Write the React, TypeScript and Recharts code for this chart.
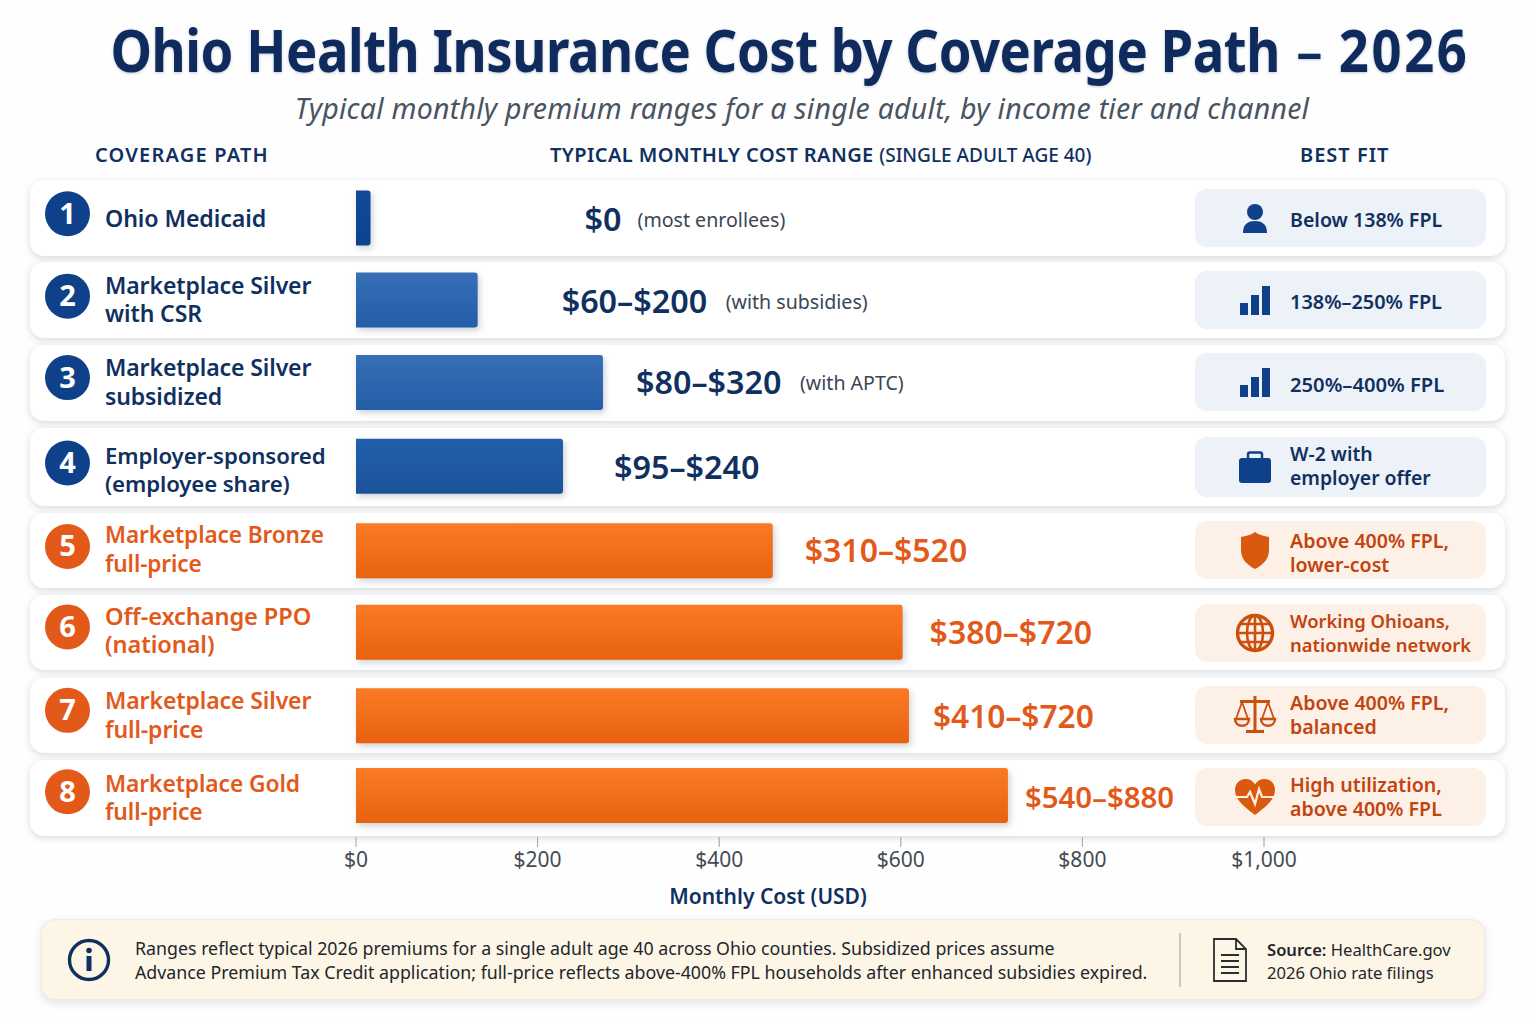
import { BarChart, Bar, XAxis, YAxis, LabelList, Rectangle } from "recharts";

// data
const coveragePaths = [
  "Ohio Medicaid",
  "Marketplace Silver\nwith CSR",
  "Marketplace Silver\nsubsidized",
  "Employer-sponsored\n(employee share)",
  "Marketplace Bronze\nfull-price",
  "Off-exchange PPO\n(national)",
  "Marketplace Silver\nfull-price",
  "Marketplace Gold\nfull-price",
];
const barCosts = [16, 134, 272, 228, 459, 602, 609, 718];
const rangeLabels = ["$0", "$60–$200", "$80–$320", "$95–$240", "$310–$520", "$380–$720", "$410–$720", "$540–$880"];
const rangeNotes = ["(most enrollees)", "(with subsidies)", "(with APTC)", "", "", "", "", ""];
const bestFit = [
  "Below 138% FPL",
  "138%–250% FPL",
  "250%–400% FPL",
  "W-2 with\nemployer offer",
  "Above 400% FPL,\nlower-cost",
  "Working Ohioans,\nnationwide network",
  "Above 400% FPL,\nbalanced",
  "High utilization,\nabove 400% FPL",
];
const costTicks = [0, 200, 400, 600, 800, 1000];

const chartData = coveragePaths.map((path, i) => ({ path, cost: barCosts[i], range: rangeLabels[i], note: rangeNotes[i] }));

// layout
const NAVY = "#10305f";
const DEEP = "#0e4189";
const ORANGE = "#e2591a";
const RUST = "#c2440f";
const FONT = "'Noto Sans', sans-serif";
const rowBoxes = [[180, 76], [262, 76], [345, 76], [428, 78], [513, 75], [595, 75], [678, 75], [760, 76]];
const chipBoxes = [[189, 58], [271, 58], [353, 58], [437, 60], [521, 58], [604, 58], [686, 58], [768, 58]];
const labelGaps = [214, 84, 33, 51, 32, 27, 24, 17];
const barFills = ["url(#gradNavy)", "url(#gradBlue)", "url(#gradBlue)", "url(#gradDeep)", "url(#gradOrange)", "url(#gradOrange)", "url(#gradOrange)", "url(#gradOrange)"];
// the rows in the picture are not evenly spaced, small nudges per row
const barShift = [-1, -1.5, -1.5, 0, 2, 1, 2, -0.5];
const badgeShift = [-1, -1, -2, 1, 2, 0, 1, 0];
const nameShift = [0, -1, -1, 4, 1, 0, 2, 2];
const nameSizes = [23.2, 23, 23, 22.2, 22.6, 23.6, 23, 22.8];
const labelShift = [0, 0, -2, 1, 1, 1, 2, 0];
const labelSizes = [32.3, 32.3, 32.3, 32.3, 32, 32, 31.7, 29.4];
const chipTextShift = [2, 2, 2, -1.5, 2.5, 0, 0, 0];
const chipIconShift = [2, 3, 3, 0, 0, 0, 0, 0];
const chipSizes = [19.6, 19.9, 20.2, 19.4, 19.6, 18.4, 19.6, 19.6];

const isWarm = (i: number) => i >= 4;

const PathTick = ({ y, index, payload }: any) => {
  const lines = String(payload.value).split("\n");
  const warm = isWarm(index);
  const color = warm ? ORANGE : DEEP;
  const cy = y - 4 + badgeShift[index];
  return (
    <g>
      <circle cx={67.5} cy={cy} r={22.5} fill={color} />
      <text x={67.5} y={cy + 10} textAnchor="middle" fontFamily={FONT} fontWeight={700} fontSize={29} fill="#fff">
        {index + 1}
      </text>
      <text
        y={y + 8 + nameShift[index] - ((lines.length - 1) / 2) * 28.5}
        fontFamily={FONT}
        fontWeight={600}
        fontSize={nameSizes[index]}
        letterSpacing={-0.1}
        fill={warm ? ORANGE : NAVY}
      >
        {lines.map((line, k) => (
          <tspan key={k} x={105} dy={k === 0 ? 0 : 28.5}>
            {line}
          </tspan>
        ))}
      </text>
    </g>
  );
};

const RangeLabel = ({ x, y, width, height, index }: any) => {
  const warm = isWarm(index);
  const left = x + width + labelGaps[index];
  const mid = y + height / 2 + labelShift[index];
  const note = rangeNotes[index];
  const mainWidth = rangeLabels[index].length === 2 ? 36 : 147;
  return (
    <g>
      <text x={left} y={mid + 12} fontFamily={FONT} fontWeight={600} fontSize={labelSizes[index]} fill={warm ? ORANGE : NAVY}>
        {rangeLabels[index]}
      </text>
      {note ? (
        <text x={left + mainWidth + 17} y={mid + 8} fontFamily={FONT} fontSize={19.6} fill="#3b4654">
          {note}
        </text>
      ) : null}
    </g>
  );
};

const CostBar = (props: any) => {
  const { x, y, width, height, index } = props;
  return (
    <Rectangle
      x={x}
      y={y + barShift[index]}
      width={width}
      height={height}
      radius={[0, 3, 3, 0]}
      fill={barFills[index]}
      style={{ filter: "drop-shadow(2px 3px 3px rgba(60,70,90,0.25))" }}
    />
  );
};

const FitIcon = ({ index }: { index: number }) => {
  const c = isWarm(index) ? "#d9590f" : DEEP;
  const s = isWarm(index) ? "#c9500f" : DEEP;
  if (index === 0)
    return (
      <svg width="44" height="44" viewBox="0 0 44 44">
        <circle cx="22" cy="14" r="8" fill={c} />
        <path d="M10 35c0-9 5-12 12-12s12 3 12 12z" fill={c} />
      </svg>
    );
  if (index === 1 || index === 2)
    return (
      <svg width="44" height="44" viewBox="0 0 44 44">
        <rect x="7" y="22" width="8" height="12" fill={c} />
        <rect x="18" y="14" width="8" height="20" fill={c} />
        <rect x="29" y="5" width="8" height="29" fill={c} />
      </svg>
    );
  if (index === 3)
    return (
      <svg width="44" height="44" viewBox="0 0 44 44">
        <rect x="6" y="13" width="32" height="25" rx="3" fill={c} />
        <path d="M15 13V9.500a2 2 0 0 1 2-2h10a2 2 0 0 1 2 2V13" fill="none" stroke={c} strokeWidth="2.500" />
      </svg>
    );
  if (index === 4)
    return (
      <svg width="44" height="44" viewBox="0 0 44 44">
        <path d="M22 4c4 3 9 4 14 5v13c0 9-6 15-14 19-8-4-14-10-14-19V9c5-1 10-2 14-5z" fill={c} />
      </svg>
    );
  if (index === 5)
    return (
      <svg width="44" height="44" viewBox="0 0 44 44" fill="none" stroke={s} strokeWidth="2.600">
        <circle cx="22" cy="22" r="17.500" strokeWidth="3.400" />
        <ellipse cx="22" cy="22" rx="8" ry="17.500" />
        <path d="M22 4.500v35M4.500 22h35M7.500 13h29M7.500 31h29" />
      </svg>
    );
  if (index === 6)
    return (
      <svg width="44" height="44" viewBox="0 0 44 44" fill="none" stroke={s} strokeWidth="1.800">
        <path d="M22 3v34M13 38.500h18M7 8.500h30" strokeWidth="3" />
        <path d="M9 9L3 26M9 9l6 17M35 9l-6 17M35 9l6 17" />
        <path d="M2 26h14c0 9-14 9-14 0zM28 26h14c0 9-14 9-14 0z" strokeWidth="2.400" />
      </svg>
    );
  return (
    <svg width="44" height="44" viewBox="0 0 44 44">
      <path d="M22 40C10 31 2 24 2 15 2 8 7 4 12.500 4 17 4 20 6 22 9.500 24 6 27 4 31.500 4 37 4 42 8 42 15c0 9-8 16-20 25z" fill={c} />
      <path d="M2 22h12l3-5 5 12 4-15 3 8h13" fill="none" stroke="#fdf1e7" strokeWidth="2.200" />
    </svg>
  );
};

const Abs = ({ style, children }: any) => <div style={{ position: "absolute", whiteSpace: "nowrap", fontFamily: FONT, ...style }}>{children}</div>;

export default function App() {
  return (
    <div style={{ position: "absolute", left: 0, top: 0, width: 1536, height: 1024, background: "#fefefe", overflow: "hidden" }}>
      <Abs style={{ left: 0, width: 1580, top: 11, textAlign: "center", fontSize: 60, lineHeight: "76px", fontWeight: 700, color: "#0f2a5c", textShadow: "0 1px 3px rgba(15,42,92,0.25)", transform: "scaleX(0.876)", transformOrigin: "790px 0" }}>
        <span style={{ letterSpacing: -0.5 }}>Ohio Health Insurance Cost by Coverage Path</span>
        <span style={{ fontWeight: 500, margin: "0 3px" }}> – </span>
        <span style={{ letterSpacing: 3 }}>2026</span>
      </Abs>
      <Abs style={{ left: 0, width: 1604, top: 89, textAlign: "center", fontSize: 28.5, lineHeight: "38px", letterSpacing: 0.25, fontStyle: "italic", color: "#4a5460" }}>
        Typical monthly premium ranges for a single adult, by income tier and channel
      </Abs>
      <Abs style={{ left: 95, top: 141, fontSize: 20, lineHeight: "28px", fontWeight: 600, color: NAVY, letterSpacing: 1.2 }}>COVERAGE PATH</Abs>
      <Abs style={{ left: 550, top: 141, fontSize: 20, lineHeight: "28px", fontWeight: 600, color: NAVY, letterSpacing: 0.4 }}>
        TYPICAL MONTHLY COST RANGE <span style={{ fontWeight: 500, fontSize: 19, letterSpacing: 0 }}>(SINGLE ADULT AGE 40)</span>
      </Abs>
      <Abs style={{ left: 1300, top: 141, fontSize: 20, lineHeight: "28px", fontWeight: 600, color: NAVY, letterSpacing: 1 }}>BEST FIT</Abs>

      {rowBoxes.map(([top, height], i) => (
        <div key={i} style={{ position: "absolute", left: 30, width: 1475, top, height, background: "#fff", borderRadius: 14, boxShadow: "0 2px 7px rgba(70,85,110,0.22)" }} />
      ))}
      {chipBoxes.map(([top, height], i) => (
        <div key={i} style={{ position: "absolute", left: 1195, width: 291, top, height, borderRadius: 12, background: isWarm(i) ? "#fdf1e7" : "#edf2f8" }}>
          <div style={{ position: "absolute", left: 38, top: height / 2 - 22 + chipIconShift[i], width: 44, height: 44 }}>
            <FitIcon index={i} />
          </div>
          <div style={{ position: "absolute", left: 95, top: chipTextShift[i], height, display: "flex", flexDirection: "column", justifyContent: "center", fontFamily: FONT, fontWeight: 600, fontSize: chipSizes[i], lineHeight: "24px", whiteSpace: "nowrap", color: isWarm(i) ? RUST : NAVY }}>
            {bestFit[i].split("\n").map((line) => (
              <div key={line}>{line}</div>
            ))}
          </div>
        </div>
      ))}

      <div style={{ position: "absolute", left: 0, top: 0 }}>
        <BarChart
          width={1536}
          height={1024}
          data={chartData}
          layout="vertical"
          barSize={55}
          margin={{ top: 177.5, right: 272, bottom: 147, left: 0 }}
        >
          <defs>
            <linearGradient id="gradNavy" x1="0" y1="0" x2="0" y2="1">
              <stop offset="0%" stopColor="#114a97" />
              <stop offset="100%" stopColor="#0c4390" />
            </linearGradient>
            <linearGradient id="gradBlue" x1="0" y1="0" x2="0" y2="1">
              <stop offset="0%" stopColor="#386fb6" />
              <stop offset="100%" stopColor="#235ea8" />
            </linearGradient>
            <linearGradient id="gradDeep" x1="0" y1="0" x2="0" y2="1">
              <stop offset="0%" stopColor="#2160ad" />
              <stop offset="100%" stopColor="#1c5299" />
            </linearGradient>
            <linearGradient id="gradOrange" x1="0" y1="0" x2="0" y2="1">
              <stop offset="0%" stopColor="#fb7a26" />
              <stop offset="100%" stopColor="#e8620f" />
            </linearGradient>
          </defs>
          <XAxis
            type="number"
            domain={[0, 1000]}
            ticks={costTicks}
            height={40}
            tickFormatter={(v) => (v === 0 ? "$0" : `$${v.toLocaleString("en-US")}`)}
            axisLine={false}
            tickSize={10}
            tickLine={{ stroke: "#9aa0a8" }}
            tick={{ fontSize: 21, fontFamily: FONT, fill: "#444b55", dy: 3 }}
          />
          <YAxis
            type="category"
            dataKey="path"
            width={356}
            interval={0}
            axisLine={false}
            tickLine={false}
            tick={(p: any) => <PathTick {...p} />}
          />
          <Bar dataKey="cost" isAnimationActive={false} shape={(p: any) => <CostBar {...p} />}>
            <LabelList dataKey="range" content={(p: any) => <RangeLabel {...p} />} />
          </Bar>
        </BarChart>
      </div>

      <Abs style={{ left: 0, width: 1536, top: 881, textAlign: "center", fontSize: 21, lineHeight: "30px", fontWeight: 600, color: NAVY }}>Monthly Cost (USD)</Abs>

      <div style={{ position: "absolute", left: 41, top: 919, width: 1444, height: 81, background: "#fdf6e7", border: "1px solid #f1ead9", boxSizing: "border-box", borderRadius: 14, boxShadow: "0 3px 8px rgba(90,90,90,0.16)" }} />
      <svg style={{ position: "absolute", left: 64, top: 935 }} width="50" height="50" viewBox="0 0 50 50">
        <circle cx="25" cy="25" r="19.500" fill="none" stroke="#10305f" strokeWidth="3.400" />
        <circle cx="25" cy="15.500" r="2.800" fill="#10305f" />
        <rect x="22.500" y="21" width="5" height="15" fill="#10305f" />
      </svg>
      <Abs style={{ left: 135, top: 936, fontSize: 17.8, lineHeight: "24px", color: "#22262c" }}>
        <div>Ranges reflect typical 2026 premiums for a single adult age 40 across Ohio counties. Subsidized prices assume</div>
        <div>Advance Premium Tax Credit application; full-price reflects above-400% FPL households after enhanced subsidies expired.</div>
      </Abs>
      <div style={{ position: "absolute", left: 1179, top: 933, width: 2, height: 54, background: "#c9c7bf" }} />
      <svg style={{ position: "absolute", left: 1210, top: 936 }} width="40" height="48" viewBox="0 0 40 48" fill="none" stroke="#2a2d33" strokeWidth="1.800">
        <path d="M4 3h22l10 10v32H4z" />
        <path d="M26 3v10h10M11 19h18M11 25h18M11 31h18M11 37h18" />
      </svg>
      <Abs style={{ left: 1267, top: 938, fontSize: 16.6, lineHeight: "23px", color: "#22262c" }}>
        <div>
          <span style={{ fontWeight: 600 }}>Source:</span> HealthCare.gov
        </div>
        <div>2026 Ohio rate filings</div>
      </Abs>
    </div>
  );
}
